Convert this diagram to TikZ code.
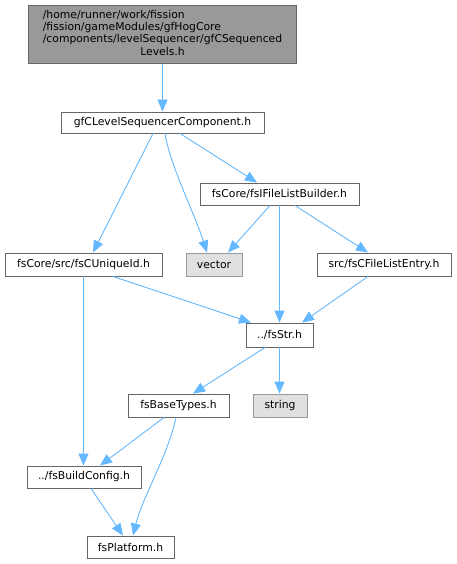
\documentclass[tikz,border=0pt]{standalone}
\usepackage{fontspec}
\setmainfont{DejaVu Sans}
\usetikzlibrary{arrows.meta}
\definecolor{edgeblue}{HTML}{63B8FF}
\definecolor{boxborder}{HTML}{666666}
\definecolor{rootfill}{HTML}{999999}
\definecolor{extfill}{HTML}{E0E0E0}
\definecolor{extborder}{HTML}{999999}
\tikzset{
  filebox/.style={draw=boxborder, fill=white, line width=0.9pt, inner sep=0pt, align=center,
    font=\fontsize{10.8pt}{12.3pt}\selectfont},
  rootbox/.style={filebox, fill=rootfill},
  extbox/.style={filebox, draw=extborder, fill=extfill},
  dep/.style={draw=edgeblue, line width=0.9pt, -{Triangle[length=12pt,width=10pt]}, fill=none},
}
\begin{document}
\begin{tikzpicture}[x=1pt,y=-1pt]
\useasboundingbox (0,0) rectangle (456,564);
\node[rootbox, minimum width=268pt, minimum height=58pt] (root) at (162.5,34.25)
  {\begin{tabular}{@{}l@{}}/home/runner/work/fission\\/fission/gameModules/gfHogCore\\/components/levelSequencer/gfCSequenced\\\multicolumn{1}{@{}c@{}}{Levels.h}\end{tabular}};
\node[filebox, minimum width=203pt, minimum height=21pt] (gfc) at (162.5,122.5) {gfCLevelSequencerComponent.h};
\node[filebox, minimum width=159pt, minimum height=22pt] (flb) at (279.5,194) {fsCore/fsIFileListBuilder.h};
\node[filebox, minimum width=157pt, minimum height=23pt] (uid) at (83.5,264.5) {fsCore/src/fsCUniqueId.h};
\node[extbox, minimum width=56pt, minimum height=23pt] (vector) at (214,264.5) {vector};
\node[filebox, minimum width=134pt, minimum height=23pt] (fle) at (384,264.5) {src/fsCFileListEntry.h};
\node[filebox, minimum width=67pt, minimum height=24pt] (str) at (279.5,335) {../fsStr.h};
\node[filebox, minimum width=101pt, minimum height=23pt] (bt) at (178.5,405.5) {fsBaseTypes.h};
\node[extbox, minimum width=54pt, minimum height=23pt] (string) at (280,405.5) {string};
\node[filebox, minimum width=114pt, minimum height=22pt] (bc) at (84,477) {../fsBuildConfig.h};
\node[filebox, minimum width=87pt, minimum height=22pt] (plat) at (130.5,547) {fsPlatform.h};

\draw[dep] (root.south) -- (root.south |- gfc.north);
\draw[dep] ([xshift=-9.5pt]gfc.south) -- ([xshift=9.5pt]uid.north);
\draw[dep] ([xshift=2.5pt]gfc.south) .. controls +(5,32) and +(-12,-38) .. ([xshift=-7pt]vector.north);
\draw[dep] ([xshift=17.5pt]gfc.south) -- ([xshift=-22.5pt]flb.north);
\draw[dep] ([xshift=-9.5pt]flb.south) -- ([xshift=14pt]vector.north);
\draw[dep] (flb.south) -- (str.north);
\draw[dep] ([xshift=15.5pt]flb.south) -- ([xshift=-16pt]fle.north);
\draw[dep] ([xshift=29.5pt]uid.south) -- ([xshift=-28.5pt]str.north);
\draw[dep] ([xshift=-16pt]fle.south) -- ([xshift=22.5pt]str.north);
\draw[dep] (uid.south) -- (uid.south |- bc.north);
\draw[dep] ([xshift=-14.5pt]str.south) -- ([xshift=14.5pt]bt.north);
\draw[dep] (str.south) -- (str.south |- string.north);
\draw[dep] ([xshift=-14.5pt]bt.south) -- ([xshift=16pt]bc.north);
\draw[dep] ([xshift=-2.5pt]bt.south) .. controls +(-8,38) and +(10,-40) .. ([xshift=2.5pt]plat.north);
\draw[dep] ([xshift=7pt]bc.south) -- ([xshift=-7.5pt]plat.north);
\end{tikzpicture}
\end{document}
